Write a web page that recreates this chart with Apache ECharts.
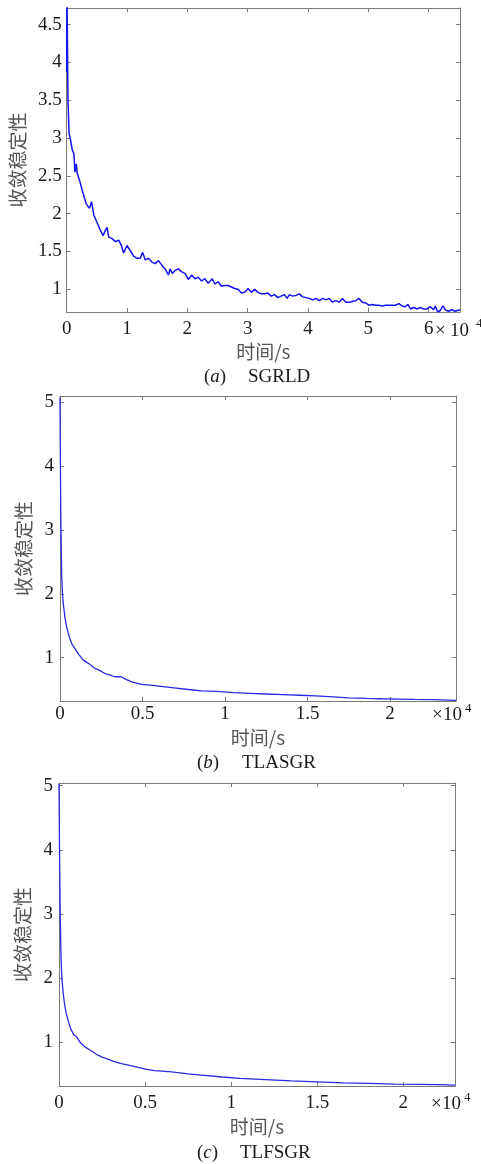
<!DOCTYPE html>
<html>
<head>
<meta charset="utf-8">
<script src="https://cdn.jsdelivr.net/npm/echarts@6/dist/echarts.min.js"></script>
<style>
html,body{margin:0;padding:0;background:#fff;}
#chart{width:481px;height:1164px;}
</style>
</head>
<body>
<div id="chart"></div>
<script>
// ---------- data (time in seconds, convergence stability) ----------
const aTime = [0,60,220,400,660,935,1210,1370,1590,1760,2140,2580,2860,3240,3790,4120,4510,4780,5220,5600,6040,6430,6700,6980,7530,8080,8630,9070,9450,10000,10550,11100,11650,12200,12580,13020,13570,14120,14670,15220,15770,16320,16870,17140,17530,17970,18520,19070,19620,20170,20720,21260,21810,22360,22910,23460,24120,24560,25110,25660,26210,26760,27310,27860,28410,28960,29510,30060,30610,31160,31710,32260,32810,33350,33900,34450,35000,35550,36100,36540,36930,37480,38030,38580,39120,39670,40220,40770,41320,41870,42420,42970,43520,44070,44620,45170,45720,46270,46820,47370,47920,48470,49010,49560,50110,50660,51210,51760,52310,52860,53410,53960,54510,55060,55610,56160,56540,56990,57530,58080,58630,59180,59730,60280,60830,61110,61490,61930,62370,62750,63300,63850,64400,64790,65200];
const aValue = [3.87,4.9,3.5,3.06,2.97,2.84,2.79,2.55,2.66,2.53,2.44,2.31,2.33,2.13,2.07,2.16,1.98,2.00,1.85,1.78,1.71,1.78,1.82,1.69,1.67,1.63,1.65,1.58,1.48,1.58,1.51,1.44,1.41,1.41,1.49,1.39,1.41,1.36,1.34,1.38,1.32,1.27,1.19,1.27,1.21,1.25,1.27,1.23,1.21,1.13,1.19,1.14,1.16,1.11,1.14,1.08,1.14,1.07,1.10,1.04,1.05,1.05,1.03,1.01,1.00,0.95,0.96,1.01,0.96,1.00,0.96,0.94,0.94,0.95,0.91,0.93,0.89,0.91,0.93,0.88,0.93,0.91,0.92,0.94,0.90,0.89,0.88,0.86,0.88,0.85,0.88,0.86,0.88,0.83,0.85,0.83,0.88,0.83,0.83,0.84,0.85,0.88,0.83,0.82,0.79,0.80,0.79,0.79,0.78,0.79,0.79,0.79,0.79,0.81,0.78,0.77,0.80,0.74,0.76,0.74,0.76,0.74,0.74,0.77,0.73,0.78,0.70,0.72,0.78,0.73,0.71,0.73,0.71,0.72,0.73];

const bTime = [0,20,50,100,150,200,300,400,505,600,707,909,1111,1414,1717,2121,2400,2727,3000,3333,3700,4000,4343,4949,5758,6768,7778,8586,9500,10505,11500,12525,13500,14545,15500,16565,17500,18586,19500,20606,21500,22626,24000];
const bValue = [5.08,4.2,3.2,2.3,2.0,1.84,1.63,1.48,1.38,1.30,1.22,1.14,1.06,0.96,0.91,0.83,0.80,0.75,0.73,0.70,0.70,0.66,0.62,0.58,0.56,0.53,0.50,0.48,0.47,0.45,0.44,0.43,0.42,0.41,0.40,0.385,0.37,0.36,0.355,0.35,0.345,0.34,0.33];

const cTime = [0,30,70,120,175,250,331,420,523,620,721,850,1012,1200,1494,1800,2267,2500,2849,3200,3628,4100,4593,5100,5564,6535,7500,8279,9500,10500,12000,13500,15000,16500,18000,19500,21000,22000,23000];
const cValue = [5.03,4.0,3.0,2.3,1.97,1.75,1.58,1.45,1.35,1.26,1.19,1.12,1.09,1.01,0.93,0.88,0.80,0.77,0.74,0.70,0.67,0.64,0.61,0.58,0.56,0.54,0.51,0.49,0.46,0.44,0.42,0.40,0.385,0.37,0.36,0.35,0.345,0.34,0.335];

const aYTicks = [1,1.5,2,2.5,3,3.5,4,4.5];
const bcYTicks = [1,2,3,4,5];
const aXTicks = [0,10000,20000,30000,40000,50000,60000];
const bcXTicks = [0,5000,10000,15000,20000];
const xScaleTimes = '×';
const xScaleBase = '10';
const xScaleExp = '4';
const yName = '收敛稳定性';
const xName = '时间/s';
const captionTags = ['a','b','c'];
const captionNames = ['SGRLD','TLASGR','TLFSGR'];

// ---------- layout ----------
const SERIF = '"Liberation Serif","Times New Roman",serif';
const CJK = '"Noto Sans CJK SC","Noto Sans",sans-serif';
const AXIS = '#7a7a7a';

const panels = [
  {t:aTime, v:aValue, grid:{left:64, top:8, width:396, height:304}, xmin:0, xmax:65200, ymin:0.70, ymax:4.72, xt:aXTicks, yt:aYTicks, xMargin:8, yMargin:5, xGap:30, yGap:28, lw:1.5, color:'#1414ee'},
  {t:bTime, v:bValue, grid:{left:60, top:396, width:396, height:305}, xmin:0, xmax:24000, ymin:0.32, ymax:5.1, xt:bcXTicks, yt:bcYTicks, xMargin:4, yMargin:6, xGap:27, yGap:24, lw:1.3, color:'#2a2ae0'},
  {t:cTime, v:cValue, grid:{left:59, top:783, width:396, height:303}, xmin:0, xmax:23000, ymin:0.32, ymax:5.04, xt:bcXTicks, yt:bcYTicks, xMargin:8, yMargin:6, xGap:31, yGap:18, lw:1.3, color:'#2a2ae0'}
];

const grids = [], xAxes = [], yAxes = [], series = [];
panels.forEach((p, i) => {
  grids.push(Object.assign({containLabel:false}, p.grid));
  const lineStyle = {color: AXIS, width: 1};
  const tickBase = {show:true, inside:true, length:4, lineStyle:{color:AXIS, width:1}};
  xAxes.push({
    type:'value', gridIndex:i, position:'bottom', min:p.xmin, max:p.xmax,
    axisLine:{show:true, onZero:false, lineStyle},
    axisTick:Object.assign({customValues:p.xt}, tickBase),
    axisLabel:{customValues:p.xt, margin:p.xMargin, color:'#1a1a1a', fontFamily:SERIF, fontSize:19,
      formatter: v => String(v/10000)},
    splitLine:{show:false},
    name:xName, nameLocation:'middle', nameGap:p.xGap,
    nameTextStyle:{fontFamily:CJK, fontSize:19, color:'#555'}
  });
  xAxes.push({
    type:'value', gridIndex:i, position:'top', min:p.xmin, max:p.xmax,
    axisLine:{show:true, onZero:false, lineStyle},
    axisTick:Object.assign({customValues:p.xt}, tickBase),
    axisLabel:{show:false}, splitLine:{show:false}
  });
  yAxes.push({
    type:'value', gridIndex:i, position:'left', min:p.ymin, max:p.ymax,
    axisLine:{show:true, onZero:false, lineStyle},
    axisTick:Object.assign({customValues:p.yt}, tickBase),
    axisLabel:{customValues:p.yt, margin:p.yMargin, color:'#1a1a1a', fontFamily:SERIF, fontSize:19,
      formatter: v => String(v)},
    splitLine:{show:false},
    name:yName, nameLocation:'middle', nameRotate:90, nameGap:p.yGap,
    nameTextStyle:{fontFamily:CJK, fontSize:19, color:'#555'}
  });
  yAxes.push({
    type:'value', gridIndex:i, position:'right', min:p.ymin, max:p.ymax,
    axisLine:{show:true, onZero:false, lineStyle},
    axisTick:Object.assign({customValues:p.yt}, tickBase),
    axisLabel:{show:false}, splitLine:{show:false}
  });
  series.push({
    type:'line', xAxisIndex:2*i, yAxisIndex:2*i, showSymbol:false, symbol:'none',
    clip:true, smooth:false, animation:false,
    lineStyle:{color:p.color, width:p.lw},
    data:p.t.map((t,k)=>[t, p.v[k]])
  });
});

// annotations: ×10^4 and captions
const scalePos = [
  {tx:435, bx:450, sx:476, y:331, sy:324},
  {tx:432, bx:443, sx:465, y:715, sy:709},
  {tx:431, bx:442, sx:464, y:1104, sy:1098}
];
const capPos = [{x:204,nx:248,y:377},{x:197,nx:242,y:763},{x:197,nx:240,y:1153}];
const graphic = [];
const txt = (x, y, text, size, extra) => Object.assign({type:'text', x, y, style:Object.assign({text, font:size+'px '+SERIF, fill:'#1a1a1a', textAlign:'left', textVerticalAlign:'middle'}, extra||{})});
scalePos.forEach(s => {
  graphic.push(txt(s.tx, s.y, xScaleTimes, 19));
  graphic.push(txt(s.bx, s.y, xScaleBase, 19));
  graphic.push(txt(s.sx, s.sy, xScaleExp, 13));
});
capPos.forEach((c, i) => {
  graphic.push(txt(c.x, c.y, '({it|'+captionTags[i]+'})', 19, {rich:{it:{fontStyle:'italic', fontFamily:SERIF, fontSize:19, fill:'#1a1a1a'}}}));
  graphic.push(txt(c.nx, c.y, captionNames[i], 19));
});

const chart = echarts.init(document.getElementById('chart'), null, {renderer:'canvas'});
chart.setOption({
  animation:false,
  backgroundColor:'#fff',
  grid:grids, xAxis:xAxes, yAxis:yAxes, series, graphic
});
</script>
</body>
</html>
